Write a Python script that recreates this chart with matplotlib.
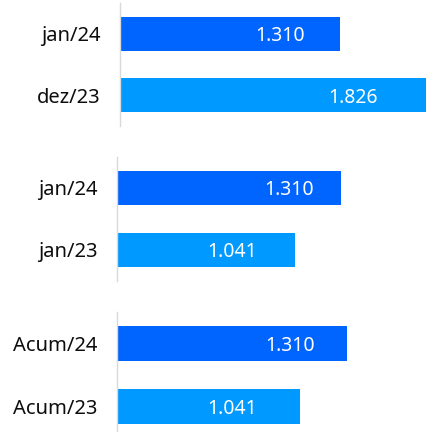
import matplotlib
matplotlib.use("Agg")
import matplotlib.pyplot as plt

plt.rcParams['font.family'] = ['Noto Sans', 'DejaVu Sans']

# data: three comparisons, two bars each
labels_mes = ["jan/24", "dez/23"]
values_mes = [1310, 1826]
labels_ano = ["jan/24", "jan/23"]
values_ano = [1310, 1041]
labels_acum = ["Acum/24", "Acum/23"]
values_acum = [1310, 1041]

COLORS = ["#0064FF", "#0099FF"]
W, H = 426, 432

# layout per group: (left px, top px, height px, xmax, label position as fraction of bar)
groups = [
    (labels_mes, values_mes, 120, 3, 123, 1826, [0.73, 0.76]),
    (labels_ano, values_ano, 117, 157, 124, 1810, [0.77, 0.65]),
    (labels_acum, values_acum, 117, 312, 126, 1762, [0.755, 0.63]),
]


def fmt(v):
    return f"{v:,}".replace(",", ".")


fig = plt.figure(figsize=(W / 100, H / 100), dpi=100)

for labels, values, left, top, height, xmax, fracs in groups:
    ax = fig.add_axes([left / W, 1 - (top + height) / H, (W - left) / W, height / H])
    ypos = range(len(labels))
    ax.barh(ypos, values, height=0.56, color=COLORS, zorder=2)
    ax.set_xlim(0, xmax)
    ax.set_ylim(1.5, -0.5)
    ax.set_yticks(list(ypos))
    ax.set_yticklabels(labels, fontsize=14.5, color="#0d0d0d")
    ax.tick_params(axis="y", length=0, pad=14)
    ax.set_xticks([])
    for s in ["top", "right", "bottom"]:
        ax.spines[s].set_visible(False)
    ax.spines["left"].set_color("#d9d9d9")
    ax.spines["left"].set_linewidth(1.0)
    ax.patch.set_alpha(0)
    for y, v, f in zip(ypos, values, fracs):
        ax.text(v * f, y, fmt(v), color="white", fontsize=14,
                ha="center", va="center_baseline", zorder=3)

fig.savefig("out.png", dpi=100)
